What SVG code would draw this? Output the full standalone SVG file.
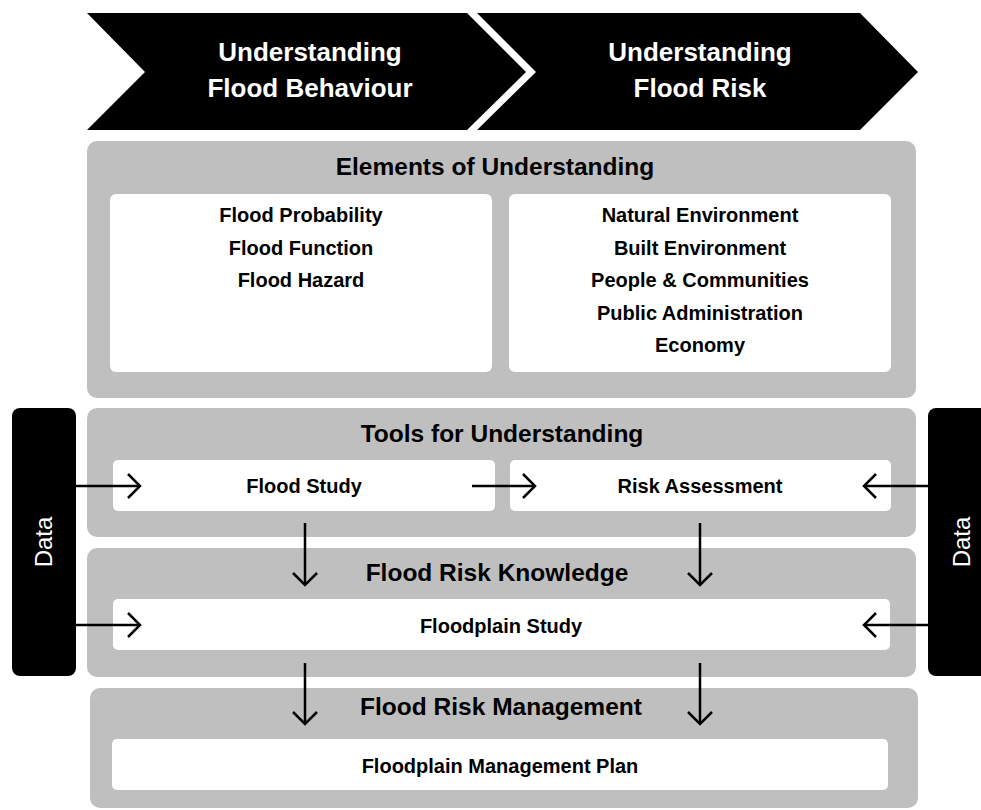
<svg xmlns="http://www.w3.org/2000/svg" width="981" height="810" viewBox="0 0 981 810">
  <style>
    text { font-family: "Liberation Sans", Arial, sans-serif; fill: #000; text-anchor: middle; }
    .chev { fill: #000; }
    .chev-label { fill: #fff; font-size: 26px; font-weight: bold; }
    .panel { fill: #bfbfbf; }
    .box { fill: #fff; }
    .title { font-size: 24.5px; font-weight: bold; }
    .item { font-size: 20px; font-weight: bold; }
    .data { fill: #000; }
    .data-label { fill: #fff; font-size: 24px; }
    .conn { stroke: #000; stroke-width: 2.5; fill: none; marker-end: url(#open-head); }
  </style>
  <defs>
    <marker id="open-head" markerUnits="userSpaceOnUse" viewBox="-15 -15 30 30" markerWidth="30" markerHeight="30" refX="0" refY="0" orient="auto" overflow="visible">
      <path d="M-12,-12 L0,0 L-12,12" fill="none" stroke="#000" stroke-width="2.5" stroke-linejoin="miter"/>
    </marker>
  </defs>

  <!-- Phase chevrons -->
  <g id="chevron-behaviour">
    <polygon class="chev" points="87,13 467,13 526,72 467,130 87,130 145,72"/>
    <text class="chev-label" x="310" y="61">Understanding</text>
    <text class="chev-label" x="310" y="97">Flood Behaviour</text>
  </g>
  <g id="chevron-risk">
    <polygon class="chev" points="477,13 860,13 918,72 860,130 477,130 536,72"/>
    <text class="chev-label" x="700" y="61">Understanding</text>
    <text class="chev-label" x="700" y="97">Flood Risk</text>
  </g>

  <!-- Elements of Understanding -->
  <g id="elements">
    <rect class="panel" x="87" y="141" width="829" height="257" rx="10"/>
    <text class="title" x="495" y="175">Elements of Understanding</text>
    <g id="elements-behaviour">
      <rect class="box" x="110" y="194" width="382" height="178" rx="6"/>
      <text class="item" x="301" y="222">Flood Probability</text>
      <text class="item" x="301" y="254.5">Flood Function</text>
      <text class="item" x="301" y="287">Flood Hazard</text>
    </g>
    <g id="elements-risk">
      <rect class="box" x="509" y="194" width="382" height="178" rx="6"/>
      <text class="item" x="700" y="222">Natural Environment</text>
      <text class="item" x="700" y="254.5">Built Environment</text>
      <text class="item" x="700" y="287">People &amp; Communities</text>
      <text class="item" x="700" y="319.5">Public Administration</text>
      <text class="item" x="700" y="352">Economy</text>
    </g>
  </g>

  <!-- Tools for Understanding -->
  <g id="tools">
    <rect class="panel" x="87" y="408" width="829" height="129" rx="10"/>
    <text class="title" x="502" y="442">Tools for Understanding</text>
    <g id="flood-study">
      <rect class="box" x="113" y="460" width="382" height="51" rx="5"/>
      <text class="item" x="304" y="493">Flood Study</text>
    </g>
    <g id="risk-assessment">
      <rect class="box" x="510" y="460" width="381" height="51" rx="5"/>
      <text class="item" x="700" y="493">Risk Assessment</text>
    </g>
  </g>

  <!-- Flood Risk Knowledge -->
  <g id="knowledge">
    <rect class="panel" x="87" y="548" width="829" height="129" rx="10"/>
    <text class="title" x="497" y="581">Flood Risk Knowledge</text>
    <g id="floodplain-study">
      <rect class="box" x="113" y="599" width="777" height="51" rx="5"/>
      <text class="item" x="501" y="633">Floodplain Study</text>
    </g>
  </g>

  <!-- Flood Risk Management -->
  <g id="management">
    <rect class="panel" x="90" y="688" width="828" height="120" rx="10"/>
    <text class="title" x="501" y="715">Flood Risk Management</text>
    <g id="floodplain-plan">
      <rect class="box" x="112" y="739" width="776" height="51" rx="5"/>
      <text class="item" x="500" y="773">Floodplain Management Plan</text>
    </g>
  </g>

  <!-- Data sources -->
  <g id="data-left">
    <rect class="data" x="12" y="408" width="64" height="268" rx="8"/>
    <text class="data-label" transform="translate(52,542) rotate(-90)">Data</text>
  </g>
  <g id="data-right">
    <rect class="data" x="928" y="408" width="64" height="268" rx="8"/>
    <text class="data-label" transform="translate(970,542) rotate(-90)">Data</text>
  </g>

  <!-- Connectors -->
  <g id="connectors">
    <line class="conn" x1="76" y1="486" x2="140" y2="486"/>
    <line class="conn" x1="76" y1="625" x2="140" y2="625"/>
    <line class="conn" x1="928" y1="486" x2="864" y2="486"/>
    <line class="conn" x1="928" y1="625" x2="864" y2="625"/>
    <line class="conn" x1="472" y1="486" x2="535" y2="486"/>
    <line class="conn" x1="305" y1="523" x2="305" y2="585"/>
    <line class="conn" x1="700" y1="523" x2="700" y2="585"/>
    <line class="conn" x1="305" y1="663" x2="305" y2="724"/>
    <line class="conn" x1="700" y1="663" x2="700" y2="724"/>
  </g>
</svg>
